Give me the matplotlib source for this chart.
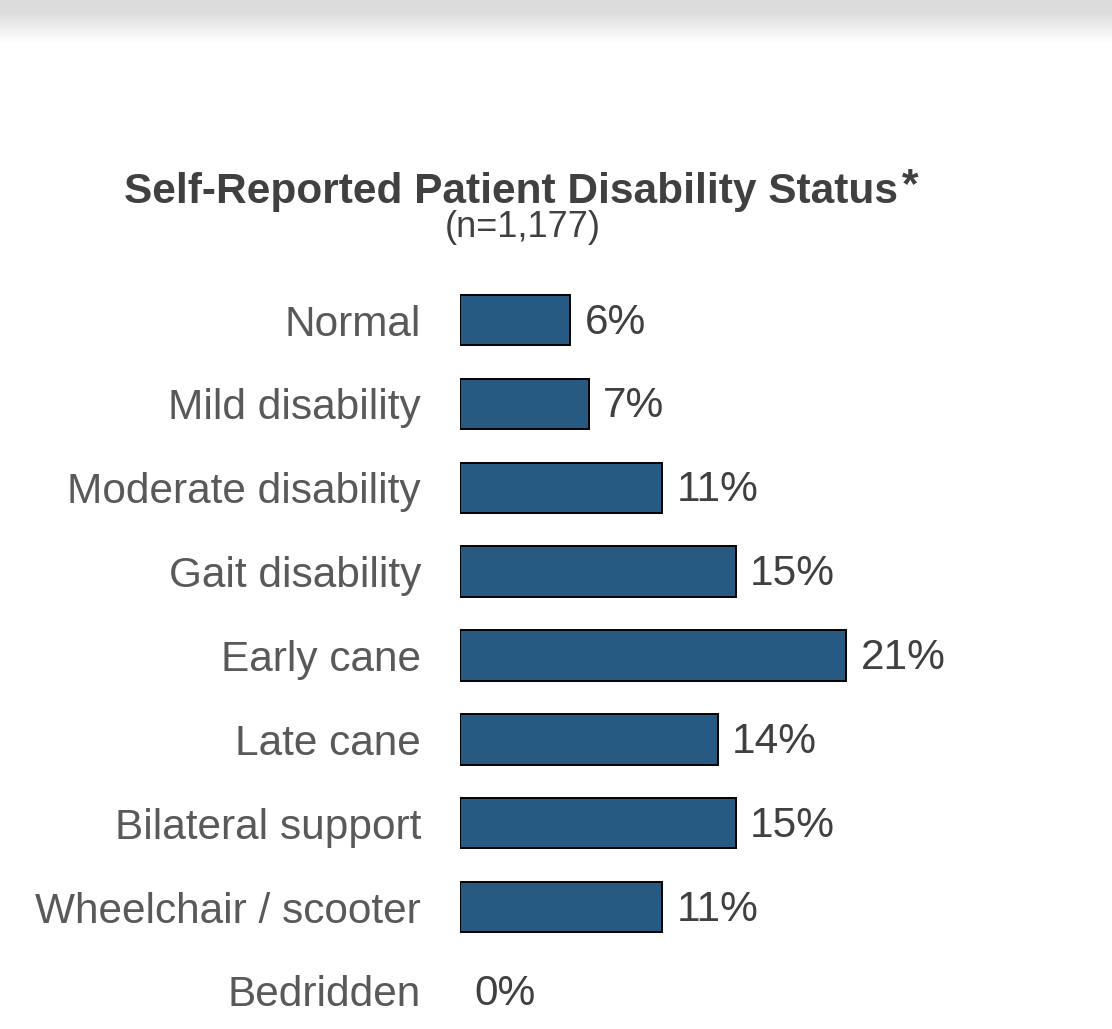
import matplotlib.pyplot as plt
import numpy as np

categories = ["Normal", "Mild disability", "Moderate disability", "Gait disability",
              "Early cane", "Late cane", "Bilateral support", "Wheelchair / scooter",
              "Bedridden"]
values = [6, 7, 11, 15, 21, 14, 15, 11, 0]

W, H = 1112, 1029
plt.rcParams['font.family'] = ['Liberation Sans', 'DejaVu Sans']

fig = plt.figure(figsize=(W / 100, H / 100), dpi=100)

# grey band fading out at the top
bg = fig.add_axes([0, 0, 1, 1], zorder=0)
rows = np.arange(H)
shade = np.clip((rows - 12) / 30.0, 0, 1)
col = 0.865 + (1 - 0.865) * shade
img = np.repeat(col[:, None], 4, axis=1)
bg.imshow(np.dstack([img, img, img]), aspect='auto', extent=[0, 1, 0, 1], origin='upper')
bg.axis('off')

# bar axes laid out in pixels
px_per_pct = 18.4
left_px, right_px = 460, 460 + 30 * px_per_pct
top_px, bot_px = 250, H
first_c, step = 320, 83.875
ax = fig.add_axes([left_px / W, 1 - bot_px / H, (right_px - left_px) / W, (bot_px - top_px) / H],
                  zorder=1)
ax.patch.set_alpha(0)
y = np.arange(len(categories))
ax.barh(y, values, height=0.6, color='#265A82',
        edgecolor=['black' if v > 0 else 'none' for v in values], linewidth=1.4)
for i, v in enumerate(values):
    ax.text(v + 14 / px_per_pct, i + 0.03, f"{v}%", va='center', ha='left',
            fontsize=30.5, color='#404040')
ax.set_xlim(0, 30)
ax.set_ylim(8 + (bot_px - (first_c + 8 * step)) / step, -(first_c - top_px) / step)
ax.set_yticks(y)
ax.set_yticklabels(categories, fontsize=30.5, color='#595959')
ax.tick_params(axis='y', length=0, pad=28)
ax.set_xticks([])
for s in ax.spines.values():
    s.set_visible(False)

fig.text(511 / W, 1 - 203 / H, "Self-Reported Patient Disability Status",
         ha='center', va='baseline', fontsize=30.5, fontweight='bold', color='#404040')
fig.text(902 / W, 1 - 197 / H, "*", ha='left', va='baseline',
         fontsize=30.5, fontweight='bold', color='#404040')
fig.text(523 / W, 1 - 237 / H, "(n=1,177)", ha='center', va='baseline',
         fontsize=26, color='#404040')

fig.savefig('out.png', dpi=100)
